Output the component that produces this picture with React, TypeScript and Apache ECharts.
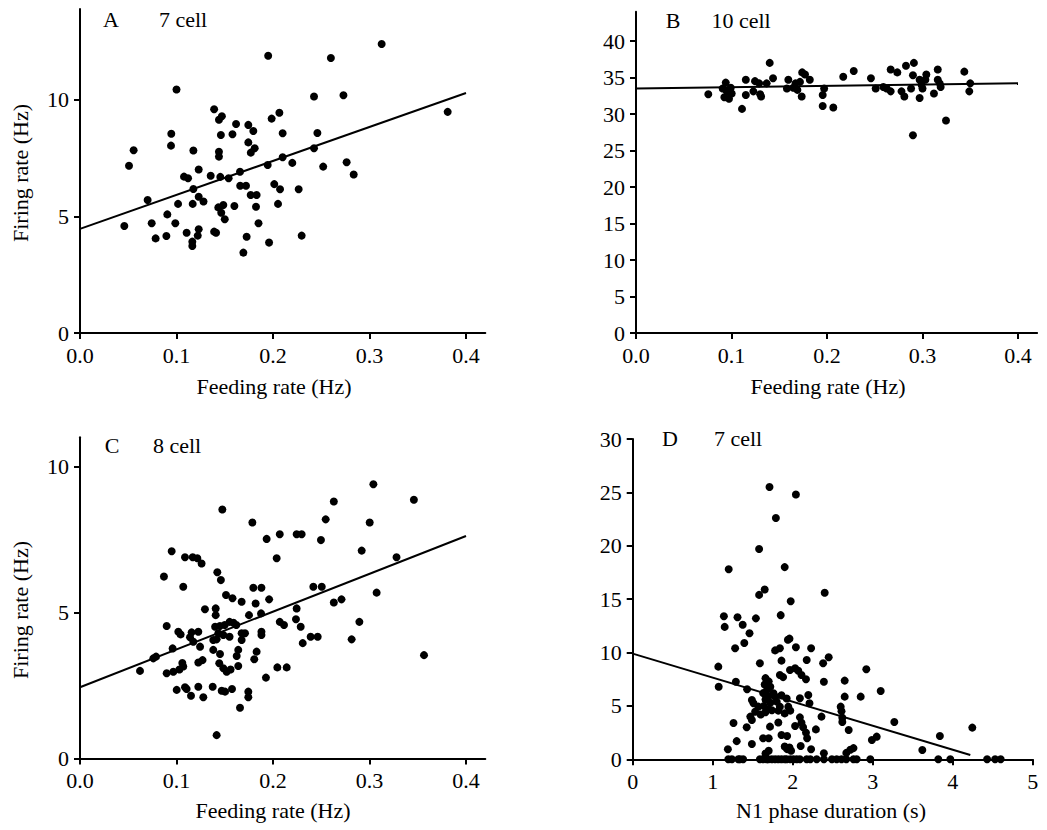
import React, { useEffect, useRef } from "react";
import * as echarts from "echarts";

// ---------- DATA ----------
// Panel A: firing rate (Hz) vs feeding rate (Hz), 7 cell
const panelA: number[][] = [
  [0.3126, 12.4], [0.195, 11.9], [0.26, 11.8], [0.1, 10.45], [0.2425, 10.15], [0.273, 10.2],
  [0.139, 9.6], [0.147, 9.3], [0.144, 9.15], [0.2066, 9.45], [0.1986, 9.2], [0.1617, 8.97],
  [0.1744, 8.93], [0.1796, 8.67], [0.0946, 8.55], [0.146, 8.5], [0.158, 8.53], [0.21, 8.57],
  [0.246, 8.58], [0.0943, 8.04], [0.1744, 8.18], [0.181, 7.93], [0.177, 7.74], [0.2425, 7.93],
  [0.0556, 7.84], [0.1175, 7.83], [0.144, 7.78], [0.144, 7.57], [0.0508, 7.18], [0.123, 7.02],
  [0.21, 7.54], [0.22, 7.3], [0.1945, 7.21], [0.252, 7.14], [0.2763, 7.33], [0.2836, 6.8],
  [0.1078, 6.71], [0.112, 6.64], [0.1354, 6.75], [0.1454, 6.7], [0.154, 6.64], [0.1658, 6.92],
  [0.166, 6.32], [0.172, 6.32], [0.2013, 6.39], [0.2073, 6.17], [0.2266, 6.17], [0.1769, 5.92],
  [0.183, 5.92], [0.1175, 6.18], [0.0701, 5.71], [0.1016, 5.54], [0.1168, 5.54], [0.128, 5.64],
  [0.123, 5.85], [0.1433, 5.39], [0.1485, 5.49], [0.16, 5.45], [0.1824, 5.42], [0.2052, 5.54],
  [0.1464, 5.16], [0.15, 4.88], [0.0459, 4.59], [0.0743, 4.71], [0.0905, 5.09], [0.0988, 4.71],
  [0.185, 4.71], [0.0784, 4.06], [0.0895, 4.16], [0.1105, 4.3], [0.123, 4.45], [0.122, 4.18],
  [0.1164, 3.92], [0.1164, 3.73], [0.139, 4.35], [0.141, 4.3], [0.1727, 4.13], [0.1959, 3.88],
  [0.2297, 4.18], [0.1693, 3.45], [0.381, 9.49],
];
const fitA: number[][] = [[0, 4.47], [0.4, 10.3]];

// Panel B: 10 cell
const panelB: number[][] = [
  [0.0757, 32.7], [0.0908, 33.5], [0.095, 33.1], [0.0992, 33.6], [0.1002, 32.8], [0.0925, 32.3],
  [0.0974, 32.1], [0.094, 34.3], [0.111, 30.7], [0.115, 34.7], [0.115, 32.6], [0.1246, 34.5],
  [0.129, 34.2], [0.1229, 33.1], [0.13, 32.7], [0.131, 32.4], [0.1368, 34.2], [0.14, 37.0],
  [0.1435, 34.9], [0.1595, 34.7], [0.158, 33.5], [0.1647, 33.6], [0.169, 33.3], [0.167, 34.2],
  [0.174, 35.7], [0.177, 35.4], [0.182, 34.7], [0.1717, 34.4], [0.1735, 32.4], [0.197, 33.5],
  [0.1955, 32.6], [0.1955, 31.1], [0.2066, 30.9], [0.217, 35.1], [0.228, 35.9], [0.246, 34.9],
  [0.251, 33.5], [0.259, 33.7], [0.2625, 33.5], [0.2667, 33.1], [0.2667, 36.1], [0.2736, 35.7],
  [0.278, 33.1], [0.281, 32.4], [0.2827, 36.6], [0.291, 37.0], [0.288, 33.5], [0.29, 35.3],
  [0.297, 34.7], [0.299, 34.0], [0.3, 33.5], [0.297, 32.2], [0.304, 35.4], [0.303, 34.7],
  [0.312, 32.8], [0.316, 36.1], [0.316, 34.7], [0.318, 34.2], [0.319, 33.7], [0.3246, 29.1],
  [0.3438, 35.8], [0.35, 34.2], [0.349, 33.1], [0.29, 27.1],
];
const fitB: number[][] = [[0, 33.5], [0.4, 34.2]];

// Panel C: 8 cell
const panelC: number[][] = [
  [0.304, 9.39], [0.346, 8.86], [0.263, 8.8], [0.1475, 8.53], [0.2546, 8.19], [0.1786, 8.08],
  [0.3002, 8.08], [0.1934, 7.52], [0.207, 7.68], [0.2245, 7.68], [0.2297, 7.68], [0.2497, 7.48],
  [0.095, 7.1], [0.1088, 6.89], [0.1168, 6.89], [0.1216, 6.86], [0.126, 6.68], [0.2038, 6.86],
  [0.2919, 7.12], [0.328, 6.89], [0.087, 6.23], [0.1423, 6.38], [0.146, 6.11], [0.107, 5.88],
  [0.1796, 5.85], [0.188, 5.85], [0.2418, 5.88], [0.2505, 5.88], [0.1513, 5.6], [0.158, 5.49],
  [0.1675, 5.37], [0.182, 5.31], [0.196, 5.45], [0.263, 5.34], [0.271, 5.45], [0.3074, 5.68],
  [0.1295, 5.11], [0.1406, 5.14], [0.1406, 4.91], [0.1751, 4.91], [0.1876, 4.97], [0.2245, 5.14],
  [0.0898, 4.54], [0.1019, 4.34], [0.1043, 4.25], [0.1157, 4.32], [0.114, 4.15], [0.1226, 4.34],
  [0.1174, 4.0], [0.14, 4.51], [0.145, 4.54], [0.15, 4.57], [0.155, 4.68], [0.159, 4.65],
  [0.162, 4.57], [0.1433, 4.29], [0.1485, 4.23], [0.1416, 4.08], [0.1381, 4.06], [0.155, 4.17],
  [0.1675, 4.29], [0.171, 4.29], [0.1675, 4.06], [0.188, 4.34], [0.188, 4.23], [0.207, 4.68],
  [0.2114, 4.57], [0.2238, 4.77], [0.2287, 4.51], [0.239, 4.17], [0.2463, 4.17], [0.2308, 3.95],
  [0.2815, 4.08], [0.2895, 4.68], [0.3565, 3.54], [0.096, 3.77], [0.1244, 3.83], [0.0788, 3.49],
  [0.076, 3.43], [0.1381, 3.72], [0.1451, 3.58], [0.164, 3.72], [0.1624, 3.51], [0.183, 3.66],
  [0.1806, 3.4], [0.1226, 3.29], [0.127, 3.37], [0.106, 3.27], [0.107, 3.15], [0.103, 3.05],
  [0.1443, 3.26], [0.1485, 3.09], [0.152, 2.97], [0.156, 3.05], [0.164, 3.17], [0.0622, 3.0],
  [0.0898, 2.92], [0.0967, 2.97], [0.2045, 3.12], [0.2142, 3.12], [0.1927, 2.77], [0.1002, 2.35],
  [0.1088, 2.44], [0.1105, 2.38], [0.115, 2.15], [0.1226, 2.46], [0.1278, 2.1], [0.1375, 2.46],
  [0.1468, 2.32], [0.1503, 2.29], [0.1575, 2.38], [0.1744, 2.29], [0.1744, 2.1], [0.1658, 1.74],
  [0.1416, 0.8],
];
const fitC: number[][] = [[0, 2.44], [0.4, 7.62]];

// Panel D: firing rate vs N1 phase duration (s), 7 cell
const panelD: number[][] = [
  [1.71, 25.5], [2.04, 24.8], [1.79, 22.6], [1.58, 19.7], [1.2, 17.8], [1.9, 18.0], [1.65, 15.9],
  [1.58, 15.4], [2.4, 15.6], [1.975, 14.8], [1.14, 13.4], [1.31, 13.3], [1.54, 13.2], [1.85, 13.5],
  [1.15, 12.4], [1.375, 12.6], [1.46, 11.8], [1.395, 10.9], [1.28, 10.4], [1.96, 11.3], [1.94, 11.2],
  [2.04, 10.5], [1.78, 10.2], [1.84, 10.4], [2.23, 10.4], [1.59, 9.0], [1.86, 9.24], [2.175, 9.3],
  [2.38, 9.0], [2.45, 9.56], [2.92, 8.43], [1.07, 8.68], [1.966, 8.37], [2.03, 8.53], [2.07, 8.3],
  [2.11, 7.9], [2.166, 7.5], [1.84, 7.9], [1.88, 7.7], [1.29, 7.27], [1.075, 6.8], [1.43, 6.56],
  [2.65, 7.37], [2.39, 7.27], [3.1, 6.4], [2.195, 6.03], [2.09, 5.71], [2.21, 5.25], [2.65, 5.87],
  [2.85, 5.87], [1.66, 7.6], [1.7, 7.3], [1.65, 7.0], [1.72, 6.8], [1.68, 6.5], [1.63, 6.2],
  [1.7, 5.9], [1.66, 5.6], [1.72, 5.3], [1.64, 5.0], [1.7, 4.7], [1.66, 4.4], [1.6, 4.2],
  [1.74, 4.6], [1.49, 5.56], [1.51, 5.25], [1.57, 4.93], [1.53, 4.46], [1.47, 4.0], [1.49, 3.68],
  [1.8, 5.4], [1.84, 4.93], [1.82, 4.56], [1.9, 4.3], [1.945, 4.93], [1.97, 4.56], [1.76, 6.19],
  [1.78, 5.87], [1.86, 6.0], [1.925, 5.7], [1.26, 3.4], [1.425, 3.0], [1.716, 3.06], [1.82, 3.45],
  [2.03, 3.12], [2.09, 3.93], [2.11, 3.43], [2.13, 3.0], [2.166, 2.5], [2.18, 1.97], [2.1, 1.25],
  [2.29, 2.8], [2.36, 4.0], [2.6, 4.93], [2.61, 4.5], [2.62, 3.9], [2.62, 3.5], [2.7, 2.75],
  [3.27, 3.5], [2.99, 1.8], [3.05, 2.12], [1.3, 1.7], [1.19, 0.94], [1.49, 1.43], [1.63, 1.97],
  [1.7, 1.97], [1.86, 2.28], [1.93, 2.18], [1.9, 1.2], [1.93, 0.95], [1.96, 1.1], [1.98, 0.8],
  [2.39, 0.56], [2.67, 0.6], [2.72, 0.9], [2.76, 1.05], [1.66, 0.55], [1.7, 0.8], [4.245, 2.97],
  [3.84, 2.18], [3.62, 0.87], [2.23, 0.94],
  [1.195, 0], [1.24, 0], [1.32, 0], [1.34, 0], [1.38, 0], [1.59, 0], [1.63, 0], [1.675, 0],
  [1.695, 0], [1.74, 0], [1.78, 0], [1.82, 0], [1.86, 0], [1.9, 0], [1.925, 0], [1.97, 0],
  [2.01, 0], [2.05, 0], [2.09, 0], [2.175, 0], [2.22, 0], [2.3, 0], [2.39, 0], [2.49, 0],
  [2.55, 0], [2.61, 0], [2.67, 0], [2.76, 0], [2.8, 0], [2.97, 0], [3.82, 0], [3.97, 0],
  [4.43, 0], [4.53, 0], [4.6, 0],
];
const fitD: number[][] = [[0, 9.9], [4.22, 0.4]];

// Tick values
const feedingTicks = [0, 0.1, 0.2, 0.3, 0.4];
const ticksA_y = [0, 5, 10];
const ticksB_y = [0, 5, 10, 15, 20, 25, 30, 35, 40];
const ticksC_y = [0, 5, 10];
const ticksD_x = [0, 1, 2, 3, 4, 5];
const ticksD_y = [0, 5, 10, 15, 20, 25, 30];

// Texts
const panelTitles = [
  { letter: "A", cells: "7 cell" },
  { letter: "B", cells: "10 cell" },
  { letter: "C", cells: "8 cell" },
  { letter: "D", cells: "7 cell" },
];
const yName = "Firing rate (Hz)";
const xNameFeeding = "Feeding rate (Hz)";
const xNameN1 = "N1 phase duration (s)";

const FONT = "Liberation Serif";

function makeAxis(gridIndex: number, min: number, max: number, ticks: number[], decimals: number) {
  const fmt = (v: number) => {
    const hit = ticks.some((t) => Math.abs(t - v) < 1e-9);
    return hit ? v.toFixed(decimals) : "";
  };
  return {
    type: "value",
    gridIndex,
    min,
    max,
    axisLine: { show: true, onZero: false, lineStyle: { color: "#000", width: 2 } },
    axisTick: {
      show: true,
      inside: false,
      length: 6,
      customValues: ticks,
      lineStyle: { color: "#000", width: 2 },
    },
    axisLabel: {
      color: "#000",
      fontFamily: FONT,
      fontSize: 22,
      margin: 11,
      customValues: ticks,
      formatter: fmt,
    },
    splitLine: { show: false },
  };
}

function scatter(idx: number, data: number[][]) {
  return {
    type: "scatter",
    xAxisIndex: idx,
    yAxisIndex: idx,
    data,
    symbol: "circle",
    symbolSize: 8,
    clip: false,
    itemStyle: { color: "#000", opacity: 1 },
    emphasis: { disabled: true },
    silent: true,
  };
}

function fit(idx: number, data: number[][]) {
  return {
    type: "line",
    xAxisIndex: idx,
    yAxisIndex: idx,
    data,
    showSymbol: false,
    symbol: "none",
    lineStyle: { color: "#000", width: 2 },
    silent: true,
  };
}

function txt(text: string, x: number, y: number, size = 22, rotation = 0) {
  return {
    type: "text",
    x,
    y,
    rotation,
    silent: true,
    style: {
      text,
      fontFamily: FONT,
      fontSize: size,
      fill: "#000",
      align: "center",
      verticalAlign: "middle",
      textAlign: "center",
      textVerticalAlign: "middle",
    },
  };
}

export default function App() {
  const ref = useRef<HTMLDivElement>(null);

  useEffect(() => {
    document.body.style.margin = "0";
    if (!ref.current) return;
    const chart = echarts.init(ref.current, undefined, { renderer: "svg" });

    const grids = [
      { left: 80, top: 9.1, width: 405.3, height: 323.9 },
      { left: 636, top: 11.8, width: 401.1, height: 321.2 },
      { left: 80, top: 437.3, width: 405.3, height: 321.2 },
      { left: 632.7, top: 439, width: 400, height: 320.3 },
    ];

    const option = {
      animation: false,
      backgroundColor: "#fff",
      grid: grids.map((g) => ({ ...g, containLabel: false })),
      xAxis: [
        makeAxis(0, 0, 0.42, feedingTicks, 1),
        makeAxis(1, 0, 0.42, feedingTicks, 1),
        makeAxis(2, 0, 0.42, feedingTicks, 1),
        makeAxis(3, 0, 5, ticksD_x, 0),
      ],
      yAxis: [
        makeAxis(0, 0, 13.9, ticksA_y, 0),
        makeAxis(1, 0, 44, ticksB_y, 0),
        makeAxis(2, 0, 11, ticksC_y, 0),
        makeAxis(3, 0, 30, ticksD_y, 0),
      ],
      series: [
        scatter(0, panelA),
        fit(0, fitA),
        scatter(1, panelB),
        fit(1, fitB),
        scatter(2, panelC),
        fit(2, fitC),
        scatter(3, panelD),
        fit(3, fitD),
      ],
      graphic: [
        txt(panelTitles[0].letter, 111, 19),
        txt(panelTitles[0].cells, 183, 19),
        txt(panelTitles[1].letter, 673, 20),
        txt(panelTitles[1].cells, 741, 20),
        txt(panelTitles[2].letter, 112, 445),
        txt(panelTitles[2].cells, 177, 445),
        txt(panelTitles[3].letter, 670, 438),
        txt(panelTitles[3].cells, 738, 438),
        txt(yName, 20, 173, 22, Math.PI / 2),
        txt(yName, 20, 610, 22, Math.PI / 2),
        txt(xNameFeeding, 274, 386),
        txt(xNameFeeding, 828, 386),
        txt(xNameFeeding, 273, 810),
        txt(xNameN1, 831, 810),
      ],
    };

    chart.setOption(option as any);
    return () => chart.dispose();
  }, []);

  return <div ref={ref} style={{ width: 1047, height: 830 }} />;
}
